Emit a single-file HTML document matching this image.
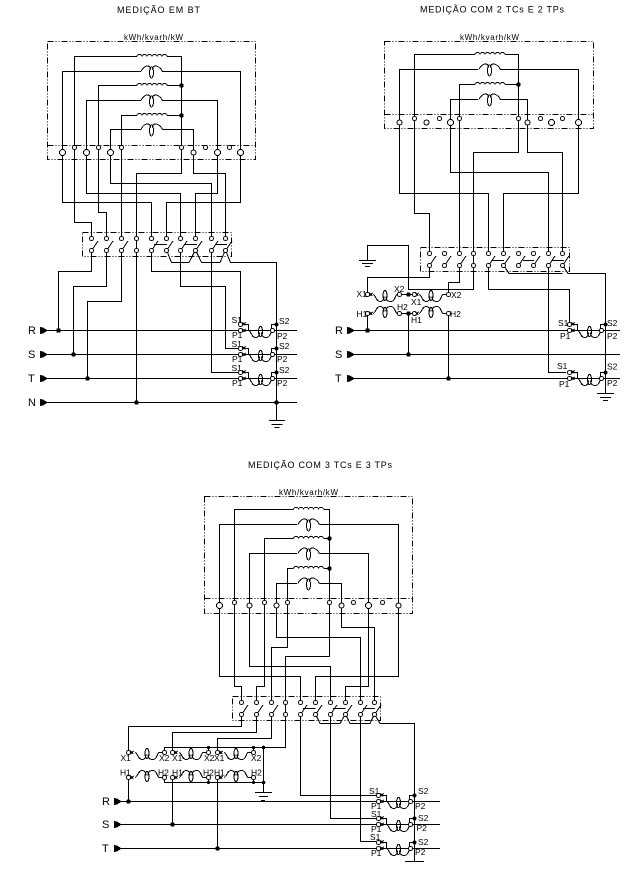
<!DOCTYPE html>
<html lang="pt">
<head>
<meta charset="utf-8">
<title>Esquemas de medição</title>
<style>
html,body{margin:0;padding:0;background:#fff}
svg{display:block;shape-rendering:crispEdges}
.w{fill:none;stroke:#000;stroke-width:1}
.d{fill:none;stroke:#000;stroke-width:1;stroke-dasharray:6 2 1 2 1 2}
.c{fill:#fff;stroke:#000;stroke-width:1}
text{font-family:"Liberation Sans",sans-serif;fill:#000}
.l{font-size:8.5px}
.m{font-size:8px}
.t{font-size:9px}
.p{font-size:11px}
</style>
</head>
<body>
<svg xmlns="http://www.w3.org/2000/svg" width="627" height="870" viewBox="0 0 627 870">
<defs>
<path id="coil" class="w" d="M0 0a2.500 2 0 0 1 5 0a2.500 2 0 0 1 5 0a2.500 2 0 0 1 5 0a2.500 2 0 0 1 5 0a2.500 2 0 0 1 5 0a2.500 2 0 0 1 5 0"/>
<g id="vc" class="w"><path d="M-10.500 0C-9-4-6-5.500-4-5.500C-2-5.500-1-4-1-2M1-2C1-4 2-5.500 4-5.500C6-5.500 9-4 11 0"/><ellipse cx="0" cy="1" rx="2" ry="5.500"/></g>
<g id="sw" class="w"><path d="M0 12L6.500 2.500"/><circle class="c" cx="0" cy="0" r="2"/><circle class="c" cx="0" cy="12" r="2"/></g>
<g id="st"><circle class="c" cx="0" cy="0" r="2"/><circle class="c" cx="0" cy="12" r="2"/></g>
<g id="u" class="w"><path d="M0 0C3 1 3 7 7 7C10 7 11 5 11 2M13 2C13 5 14 7 18 7C22 7 22 1 24 0"/><ellipse cx="12" cy="1" rx="2" ry="5"/></g>
<g id="ui" class="w"><path d="M0 0C3-1 3-7 7-7C10-7 11-5 11-2M13-2C13-5 14-7 18-7C22-7 22-1 24 0"/><ellipse cx="12" cy="-1" rx="2" ry="5"/></g>
<path id="xm" class="w" d="M-1.500-1.500L1.500 1.500M-1.500 1.500L1.500-1.500"/>
<g id="tc"><path class="w" d="M3.500-6H8V0M31 0V-6H36"/><use href="#u" x="8" y="0"/><circle class="c" cx="0" cy="-6" r="2"/><circle class="c" cx="0" cy="0" r="2"/><use href="#xm" x="3.500" y="-6.500"/><use href="#xm" x="3.500" y="0"/><circle class="c" cx="32" cy="0" r="2"/><circle cx="36" cy="-6" r="2"/></g>
<polygon id="ar" points="0,-3.500 3,-3 8,0 3,3 0,3.500"/>
</defs>

<!-- Titles -->
<text class="t" x="117" y="13" textLength="83" lengthAdjust="spacing">MEDIÇÃO  EM BT</text>
<text class="t" x="420" y="12.500" textLength="144" lengthAdjust="spacing">MEDIÇÃO COM 2 TCs E 2 TPs</text>
<text class="t" x="248" y="468" textLength="144" lengthAdjust="spacing">MEDIÇÃO COM 3 TCs E 3 TPs</text>

<!-- ========== Diagram 1 ========== -->
<rect class="d" x="47.500" y="41.500" width="208" height="118"/>
<path class="d" d="M47.500 145.500H255.500"/>
<text class="m" x="124" y="40" textLength="59" lengthAdjust="spacing">kWh/kvarh/kW</text>
<path class="d" d="M82.500 232.500H231.500V256.500H82.500Z"/>
<path class="w" d="M91.500 238V222.500H74.500V56.500H137M167 56.500H181.500V173.500H136.500V402.500
M151.500 238V202.500H62.500V71.500H141M162 71.500H240.500V202.500H166.500V238
M106.500 238V212.500H98.500V85.500H137M167 85.500H181.500
M180.500 238V193.500H86.500V100.500H141M162 100.500H217.500V193.500H195.500V238
M121.500 238V115.500H137M167 115.500H181.500
M211.500 238V183.500H110.500V129.500H141M162 129.500H193.500V173.500H225.500V238
M91.500 250V271.500H58.500V330.500
M106.500 250V286.500H73.500V354.500
M121.500 250V301.500H87.500V378.500
M151.500 250V271.500H240.500V324
M180.500 250V286.500H225.500V348.500H238
M211.500 250V372.500H238
M154 244.500H167M184 244.500H197M215 244.500H227
M166.500 250L171.500 262.500H189L195.500 250L201.500 262.500H220L225.500 250L230.500 262.500H276.500V420.500
M269 420.500H285M271.500 424.500H282.500M274.500 427.500H279.500
M46 330.500H297M46 354.500H297M46 378.500H297M46 402.500H297"/>
<use href="#coil" x="137" y="56.500"/><use href="#coil" x="137" y="85.500"/><use href="#coil" x="137" y="115.500"/>
<use href="#vc" x="151.500" y="71.500"/><use href="#vc" x="151.500" y="100.500"/><use href="#vc" x="151.500" y="129.500"/>
<g class="c">
<circle cx="62.500" cy="152.500" r="3"/><circle cx="86.500" cy="152.500" r="3"/><circle cx="110.500" cy="152.500" r="3"/><circle cx="193.500" cy="152.500" r="2.500"/><circle cx="217.500" cy="152.500" r="3"/><circle cx="240.500" cy="152.500" r="3"/>
<circle cx="74.500" cy="147.500" r="2"/><circle cx="98.500" cy="147.500" r="2"/><circle cx="121.500" cy="147.500" r="2"/><circle cx="181.500" cy="147.500" r="2"/><circle cx="205.500" cy="147.500" r="2"/><circle cx="229.500" cy="147.500" r="2"/>
</g>
<use href="#sw" x="91.500" y="238.500"/><use href="#sw" x="106.500" y="238.500"/><use href="#sw" x="121.500" y="238.500"/><use href="#st" x="136.500" y="238.500"/><use href="#sw" x="151.500" y="238.500"/><use href="#sw" x="166.500" y="238.500"/><use href="#sw" x="180.500" y="238.500"/><use href="#sw" x="195.500" y="238.500"/><use href="#sw" x="211.500" y="238.500"/><use href="#sw" x="225.500" y="238.500"/>
<use href="#tc" x="240.500" y="330.500"/><use href="#tc" x="240.500" y="354.500"/><use href="#tc" x="240.500" y="378.500"/>
<circle cx="181.500" cy="85.500" r="2.200"/><circle cx="181.500" cy="115.500" r="2.200"/>
<rect x="56.500" y="328.500" width="4" height="4"/><circle cx="73.500" cy="354.500" r="2.200"/><circle cx="87.500" cy="378.500" r="2.200"/><circle cx="136.500" cy="402.500" r="2.200"/><circle cx="276.500" cy="402.500" r="2.200"/>
<use href="#ar" x="40" y="330.500"/><use href="#ar" x="40" y="354.500"/><use href="#ar" x="40" y="378.500"/><use href="#ar" x="40" y="402.500"/>
<g class="p"><text x="28" y="334">R</text><text x="28" y="358">S</text><text x="28" y="382">T</text><text x="28" y="406">N</text></g>
<g class="l">
<text x="231.500" y="323">S1</text><text x="232" y="338">P1</text><text x="279" y="324">S2</text><text x="277" y="339">P2</text>
<text x="231.500" y="347">S1</text><text x="232" y="362">P1</text><text x="279" y="349">S2</text><text x="277" y="362">P2</text>
<text x="231.500" y="371">S1</text><text x="232" y="386">P1</text><text x="279" y="373">S2</text><text x="277" y="386">P2</text>
</g>

<!-- ========== Diagram 2 ========== -->
<rect class="d" x="384.500" y="41.500" width="209" height="87"/>
<path class="d" d="M384.500 114.500H593.500"/>
<text class="m" x="460" y="40" textLength="59" lengthAdjust="spacing">kWh/kvarh/kW</text>
<path class="d" d="M420.500 247.500H569.500V271.500H420.500Z"/>
<path class="w" d="M429.500 253V213.500H414.500V54.500H475M505 54.500H518.500V152.500H473.500V265
M488.500 253V193.500H399.500V69.500H478M500 69.500H578.500V193.500H503.500V253
M459.500 253V84.500H475M505 84.500H518.500
M548.500 253V172.500H450.500V99.500H478M500 99.500H527.500V152.500H562.500V253
M429.500 265V277.500H367.500V294
M459.500 265V282.500H448.500V294
M473.500 265V289.500H408.500V245.500H367.500V260.500
M488.500 265V289.500H569.500V324
M548.500 265V372.500H566
M492 260.500H504M523 260.500H534M552 260.500H564
M503.500 265L509 273.500H562.500M562.500 265L568 273.500H605.500V393.500
M359 260.500H376M362 263.500H373M365 266.500H370
M597 393.500H614M600 397.500H611M603 400.500H608
M347 330.500H620M347 354.500H620M347 378.500H620
M367.500 313V330.500M408.500 313V354.500M448.500 313V378.500
M399 294.500H414M399 313.500H414"/>
<use href="#coil" x="475" y="54.500"/><use href="#coil" x="475" y="84.500"/>
<use href="#vc" x="489.500" y="69.500"/><use href="#vc" x="489.500" y="99.500"/>
<g class="c">
<circle cx="399.500" cy="122.500" r="2.500"/><circle cx="426.500" cy="122.500" r="2.500"/><circle cx="450.500" cy="122.500" r="3"/><circle cx="527.500" cy="122.500" r="2.500"/><circle cx="551.500" cy="122.500" r="3"/><circle cx="578.500" cy="122.500" r="3"/>
<circle cx="414.500" cy="118.500" r="2"/><circle cx="439.500" cy="118.500" r="2"/><circle cx="459.500" cy="118.500" r="2"/><circle cx="518.500" cy="118.500" r="2"/><circle cx="540.500" cy="118.500" r="2"/><circle cx="562.500" cy="118.500" r="2"/>
</g>
<use href="#sw" x="429.500" y="253.500"/><use href="#sw" x="444.500" y="253.500"/><use href="#sw" x="459.500" y="253.500"/><use href="#st" x="473.500" y="253.500"/><use href="#sw" x="488.500" y="253.500"/><use href="#sw" x="503.500" y="253.500"/><use href="#sw" x="518.500" y="253.500"/><use href="#sw" x="533.500" y="253.500"/><use href="#sw" x="548.500" y="253.500"/><use href="#sw" x="562.500" y="253.500"/>
<!-- potential transformers -->
<use href="#u" x="373" y="294.500"/><use href="#u" x="419" y="294.500"/>
<use href="#ui" x="373" y="313.500"/><use href="#ui" x="419" y="313.500"/>
<path class="w" d="M397 294.500H399M397 313.500H399M443 294.500H448M443 313.500H448"/>
<g class="c"><circle cx="367.500" cy="294.500" r="2"/><circle cx="367.500" cy="313.500" r="2"/><circle cx="399.500" cy="294.500" r="2"/><circle cx="399.500" cy="313.500" r="2"/><circle cx="414.500" cy="294.500" r="2"/><circle cx="414.500" cy="313.500" r="2"/><circle cx="448.500" cy="294.500" r="2"/><circle cx="448.500" cy="313.500" r="2"/></g>
<use href="#xm" x="371" y="294.500"/><use href="#xm" x="371" y="313.500"/><use href="#xm" x="417" y="294.500"/><use href="#xm" x="417" y="313.500"/>
<use href="#tc" x="569.500" y="330.500"/><use href="#tc" x="569.500" y="378.500"/>
<circle cx="518.500" cy="84.500" r="2.200"/><circle cx="408.500" cy="294.500" r="2.200"/><circle cx="408.500" cy="313.500" r="2.200"/>
<rect x="365.500" y="328.500" width="4" height="4"/><circle cx="408.500" cy="354.500" r="2.200"/><circle cx="448.500" cy="378.500" r="2.200"/>
<use href="#ar" x="347" y="330.500"/><use href="#ar" x="347" y="354.500"/><use href="#ar" x="347" y="378.500"/>
<g class="p"><text x="335" y="334">R</text><text x="335" y="358">S</text><text x="335" y="382">T</text></g>
<g class="l">
<text x="356.500" y="297">X1</text><text x="394" y="292">X2</text><text x="411" y="305">X1</text><text x="451" y="298">X2</text>
<text x="356.500" y="317">H1</text><text x="397" y="310">H2</text><text x="411" y="323">H1</text><text x="450" y="317">H2</text>
<text x="558" y="326">S1</text><text x="560" y="339">P1</text><text x="607" y="326">S2</text><text x="607" y="339">P2</text>
<text x="557" y="369">S1</text><text x="559" y="387">P1</text><text x="607" y="369.500">S2</text><text x="607" y="386">P2</text>
</g>

<!-- ========== Diagram 3 ========== -->
<rect class="d" x="204.500" y="496.500" width="208" height="117"/>
<path class="d" d="M204.500 598.500H412.500"/>
<text class="m" x="279" y="495" textLength="59" lengthAdjust="spacing">kWh/kvarh/kW</text>
<path class="d" d="M232.500 696.500H380.500V720.500H232.500Z"/>
<path class="w" d="M241.500 702.500V686.500H234.500V509.500H293.500M324 509.500H329.500V656.500H285.500V714
M300.500 702.500V676.500H219.500V524.500H297M319.500 524.500H398.500V676.500H315.500V702.500
M256.500 702.500V686.500H264.500V538.500H293.500M324 538.500H329.500
M330.500 702.500V666.500H249.500V553.500H297M319.500 553.500H368.500V686.500H345.500V702.500
M271.500 702.500V647.500H287.500V568.500H293.500M324 568.500H329.500
M360.500 702.500V637.500H276.500V583.500H297M319.500 583.500H341.500V627.500H374.500V702.500
M241.500 714V726.500H128.500V750
M256.500 714V732.500H172.500V750
M271.500 714V738.500H217.500V750
M285.500 714V747.500H164.500V750M208.500 747.500V750M253.500 747.500V750M263.500 747.500V792.500
M164.500 780V782.500H263.500M208.500 780V782.500M253.500 780V782.500
M300.500 714V795.500H376
M330.500 714V818.500H376
M360.500 714V841.500H376
M303 708.500H315.500M333 708.500H345.500M363 708.500H375
M315.500 714L320 723.500H340L345.500 714L350 723.500H370L374.500 714L380 723.500H414.500V861.500
M405 861.500H424M255 792.500H272M259 796.500H268M261 800.500H265
M116 801.500H440M116 824.500H440M116 848.500H440
M128.500 780V801.500M172.500 780V824.500M217.500 780V848.500"/>
<use href="#coil" x="293.500" y="509.500"/><use href="#coil" x="293.500" y="538.500"/><use href="#coil" x="293.500" y="568.500"/>
<use href="#vc" x="308.500" y="524.500"/><use href="#vc" x="308.500" y="553.500"/><use href="#vc" x="308.500" y="583.500"/>
<g class="c">
<circle cx="219.500" cy="605.500" r="3"/><circle cx="249.500" cy="605.500" r="2.500"/><circle cx="276.500" cy="605.500" r="2.500"/><circle cx="341.500" cy="605.500" r="2.500"/><circle cx="368.500" cy="605.500" r="3"/><circle cx="398.500" cy="605.500" r="2.500"/>
<circle cx="234.500" cy="602.500" r="2"/><circle cx="264.500" cy="602.500" r="2"/><circle cx="287.500" cy="602.500" r="2"/><circle cx="329.500" cy="602.500" r="2"/><circle cx="353.500" cy="602.500" r="2"/><circle cx="382.500" cy="602.500" r="2"/>
</g>
<use href="#sw" x="241.500" y="702.500"/><use href="#sw" x="256.500" y="702.500"/><use href="#sw" x="271.500" y="702.500"/><use href="#st" x="285.500" y="702.500"/><use href="#sw" x="300.500" y="702.500"/><use href="#sw" x="315.500" y="702.500"/><use href="#sw" x="330.500" y="702.500"/><use href="#sw" x="345.500" y="702.500"/><use href="#sw" x="360.500" y="702.500"/><use href="#sw" x="374.500" y="702.500"/>
<!-- potential transformers -->
<use href="#u" x="135" y="752.500"/><use href="#u" x="179" y="752.500"/><use href="#u" x="224" y="752.500"/>
<use href="#ui" x="135" y="777.500"/><use href="#ui" x="179" y="777.500"/><use href="#ui" x="224" y="777.500"/>
<path class="w" d="M159 752.500H164M203 752.500H208.500M248 752.500H253.500M159 777.500H164.500V782M203 777.500H208.500V782M248 777.500H253.500V782"/>
<g class="c">
<circle cx="128.500" cy="752.500" r="2"/><circle cx="164.500" cy="752.500" r="2"/><circle cx="172.500" cy="752.500" r="2"/><circle cx="208.500" cy="752.500" r="2"/><circle cx="217.500" cy="752.500" r="2"/><circle cx="253.500" cy="752.500" r="2"/>
<circle cx="128.500" cy="777.500" r="2"/><circle cx="164.500" cy="777.500" r="2"/><circle cx="172.500" cy="777.500" r="2"/><circle cx="208.500" cy="777.500" r="2"/><circle cx="217.500" cy="777.500" r="2"/><circle cx="253.500" cy="777.500" r="2"/>
</g>
<use href="#xm" x="132" y="752.500"/><use href="#xm" x="132" y="777.500"/><use href="#xm" x="176" y="752.500"/><use href="#xm" x="176" y="777.500"/><use href="#xm" x="221" y="752.500"/><use href="#xm" x="221" y="777.500"/>
<use href="#tc" x="378.500" y="801.500"/><use href="#tc" x="378.500" y="824.500"/><use href="#tc" x="378.500" y="848.500"/>
<circle cx="329.500" cy="538.500" r="2.200"/><circle cx="329.500" cy="568.500" r="2.200"/>
<circle cx="128.500" cy="801.500" r="2.200"/><circle cx="172.500" cy="824.500" r="2.200"/><circle cx="217.500" cy="848.500" r="2.200"/>
<circle cx="208.500" cy="747.500" r="1.500"/><circle cx="253.500" cy="747.500" r="1.500"/><circle cx="263.500" cy="747.500" r="1.800"/><circle cx="208.500" cy="782.500" r="1.500"/><circle cx="253.500" cy="782.500" r="1.500"/><circle cx="263.500" cy="782.500" r="1.800"/>
<use href="#ar" x="114" y="801.500"/><use href="#ar" x="114" y="824.500"/><use href="#ar" x="114" y="848.500"/>
<g class="p"><text x="102" y="805">R</text><text x="102" y="828">S</text><text x="102" y="852">T</text></g>
<g class="l">
<text x="120.500" y="761">X1</text><text x="159" y="761">X2</text><text x="172" y="761">X1</text><text x="204" y="761">X2</text><text x="214" y="761">X1</text><text x="251" y="761">X2</text>
<text x="120" y="775.500">H1</text><text x="158" y="775.500">H2</text><text x="172" y="775.500">H1</text><text x="203" y="775.500">H2</text><text x="214" y="775.500">H1</text><text x="251" y="775.500">H2</text>
<text x="369" y="794">S1</text><text x="371" y="809">P1</text><text x="418" y="794">S2</text><text x="415" y="809">P2</text>
<text x="371" y="817">S1</text><text x="371" y="832">P1</text><text x="418" y="821">S2</text><text x="416.500" y="831">P2</text>
<text x="370" y="840">S1</text><text x="371" y="856">P1</text><text x="418" y="845">S2</text><text x="415" y="855">P2</text>
</g>
</svg>
</body>
</html>
